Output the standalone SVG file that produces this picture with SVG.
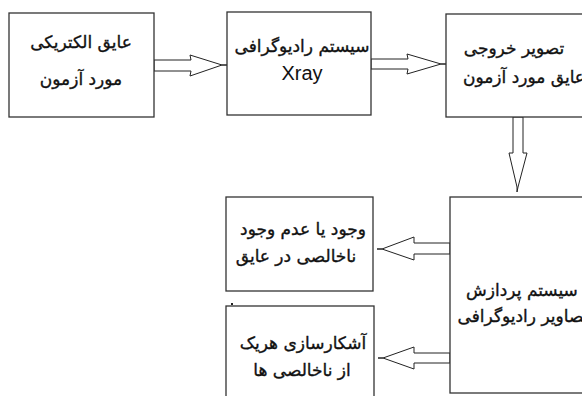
<svg xmlns="http://www.w3.org/2000/svg" width="582" height="396" viewBox="0 0 582 396">
<style>
.box{fill:#fff;stroke:#333;stroke-width:1.3}
.arr{fill:#fff;stroke:#222;stroke-width:1}
.fa{font-family:"DejaVu Sans","Noto Sans",sans-serif;font-size:17px;fill:#111;stroke:#111;stroke-width:0.35;text-anchor:middle}
.en{font-family:"Liberation Sans",Arial,sans-serif;font-size:20px;fill:#111;text-anchor:middle}
</style>
<rect width="582" height="396" fill="#fff"/>
<g id="connectors">
<polygon class="arr" points="154,60 191,60 190,55 222,65 227,65 222,65 190,76 191,71 154,71"/>
<polygon class="arr" points="371,59 408,59 407,54 441,64 446,64 441,64 407,74 408,69 371,69"/>
<polygon class="arr" points="513,117 513,153 509,153 517,187 517,192 518,187 527,153 523,153 523,117"/>
<polygon class="arr" points="450,243 414,243 414,237 382,249 377,249 382,249 414,260 414,254 450,254"/>
<polygon class="arr" points="450,353 414,353 414,347 383,358 378,358 383,358 414,369 414,363 450,363"/>
</g>
<g id="node1">
<rect class="box" x="9" y="13" width="145" height="104"/>
<text class="fa" x="81" y="48">عایق الکتریکی</text>
<text class="fa" x="81" y="85">مورد آزمون</text>
</g>
<g id="node2">
<rect class="box" x="227" y="12" width="144" height="103"/>
<text class="fa" x="302" y="52">سیستم رادیوگرافی</text>
<text class="en" x="302" y="80">Xray</text>
</g>
<g id="node3">
<rect class="box" x="446" y="14" width="150" height="103"/>
<text class="fa" x="514" y="54">تصویر خروجی</text>
<text class="fa" x="524" y="83">عایق مورد آزمون</text>
</g>
<g id="node4">
<rect class="box" x="450" y="197" width="150" height="196"/>
<text class="fa" x="522" y="296">سیستم پردازش</text>
<text class="fa" x="523" y="322">تصاویر رادیوگرافی</text>
</g>
<g id="node5">
<rect class="box" x="226" y="197" width="147" height="94"/>
<text class="fa" x="303" y="235">وجود یا عدم وجود</text>
<text class="fa" x="296" y="262">ناخالصی در عایق</text>
</g>
<g id="node6">
<rect class="box" x="226" y="306" width="148" height="100"/>
<rect x="231" y="303" width="2" height="2" fill="#222"/>
<text class="fa" x="303" y="349">آشکارسازی هریک</text>
<text class="fa" x="302" y="376">از ناخالصی ها</text>
</g>
</svg>
